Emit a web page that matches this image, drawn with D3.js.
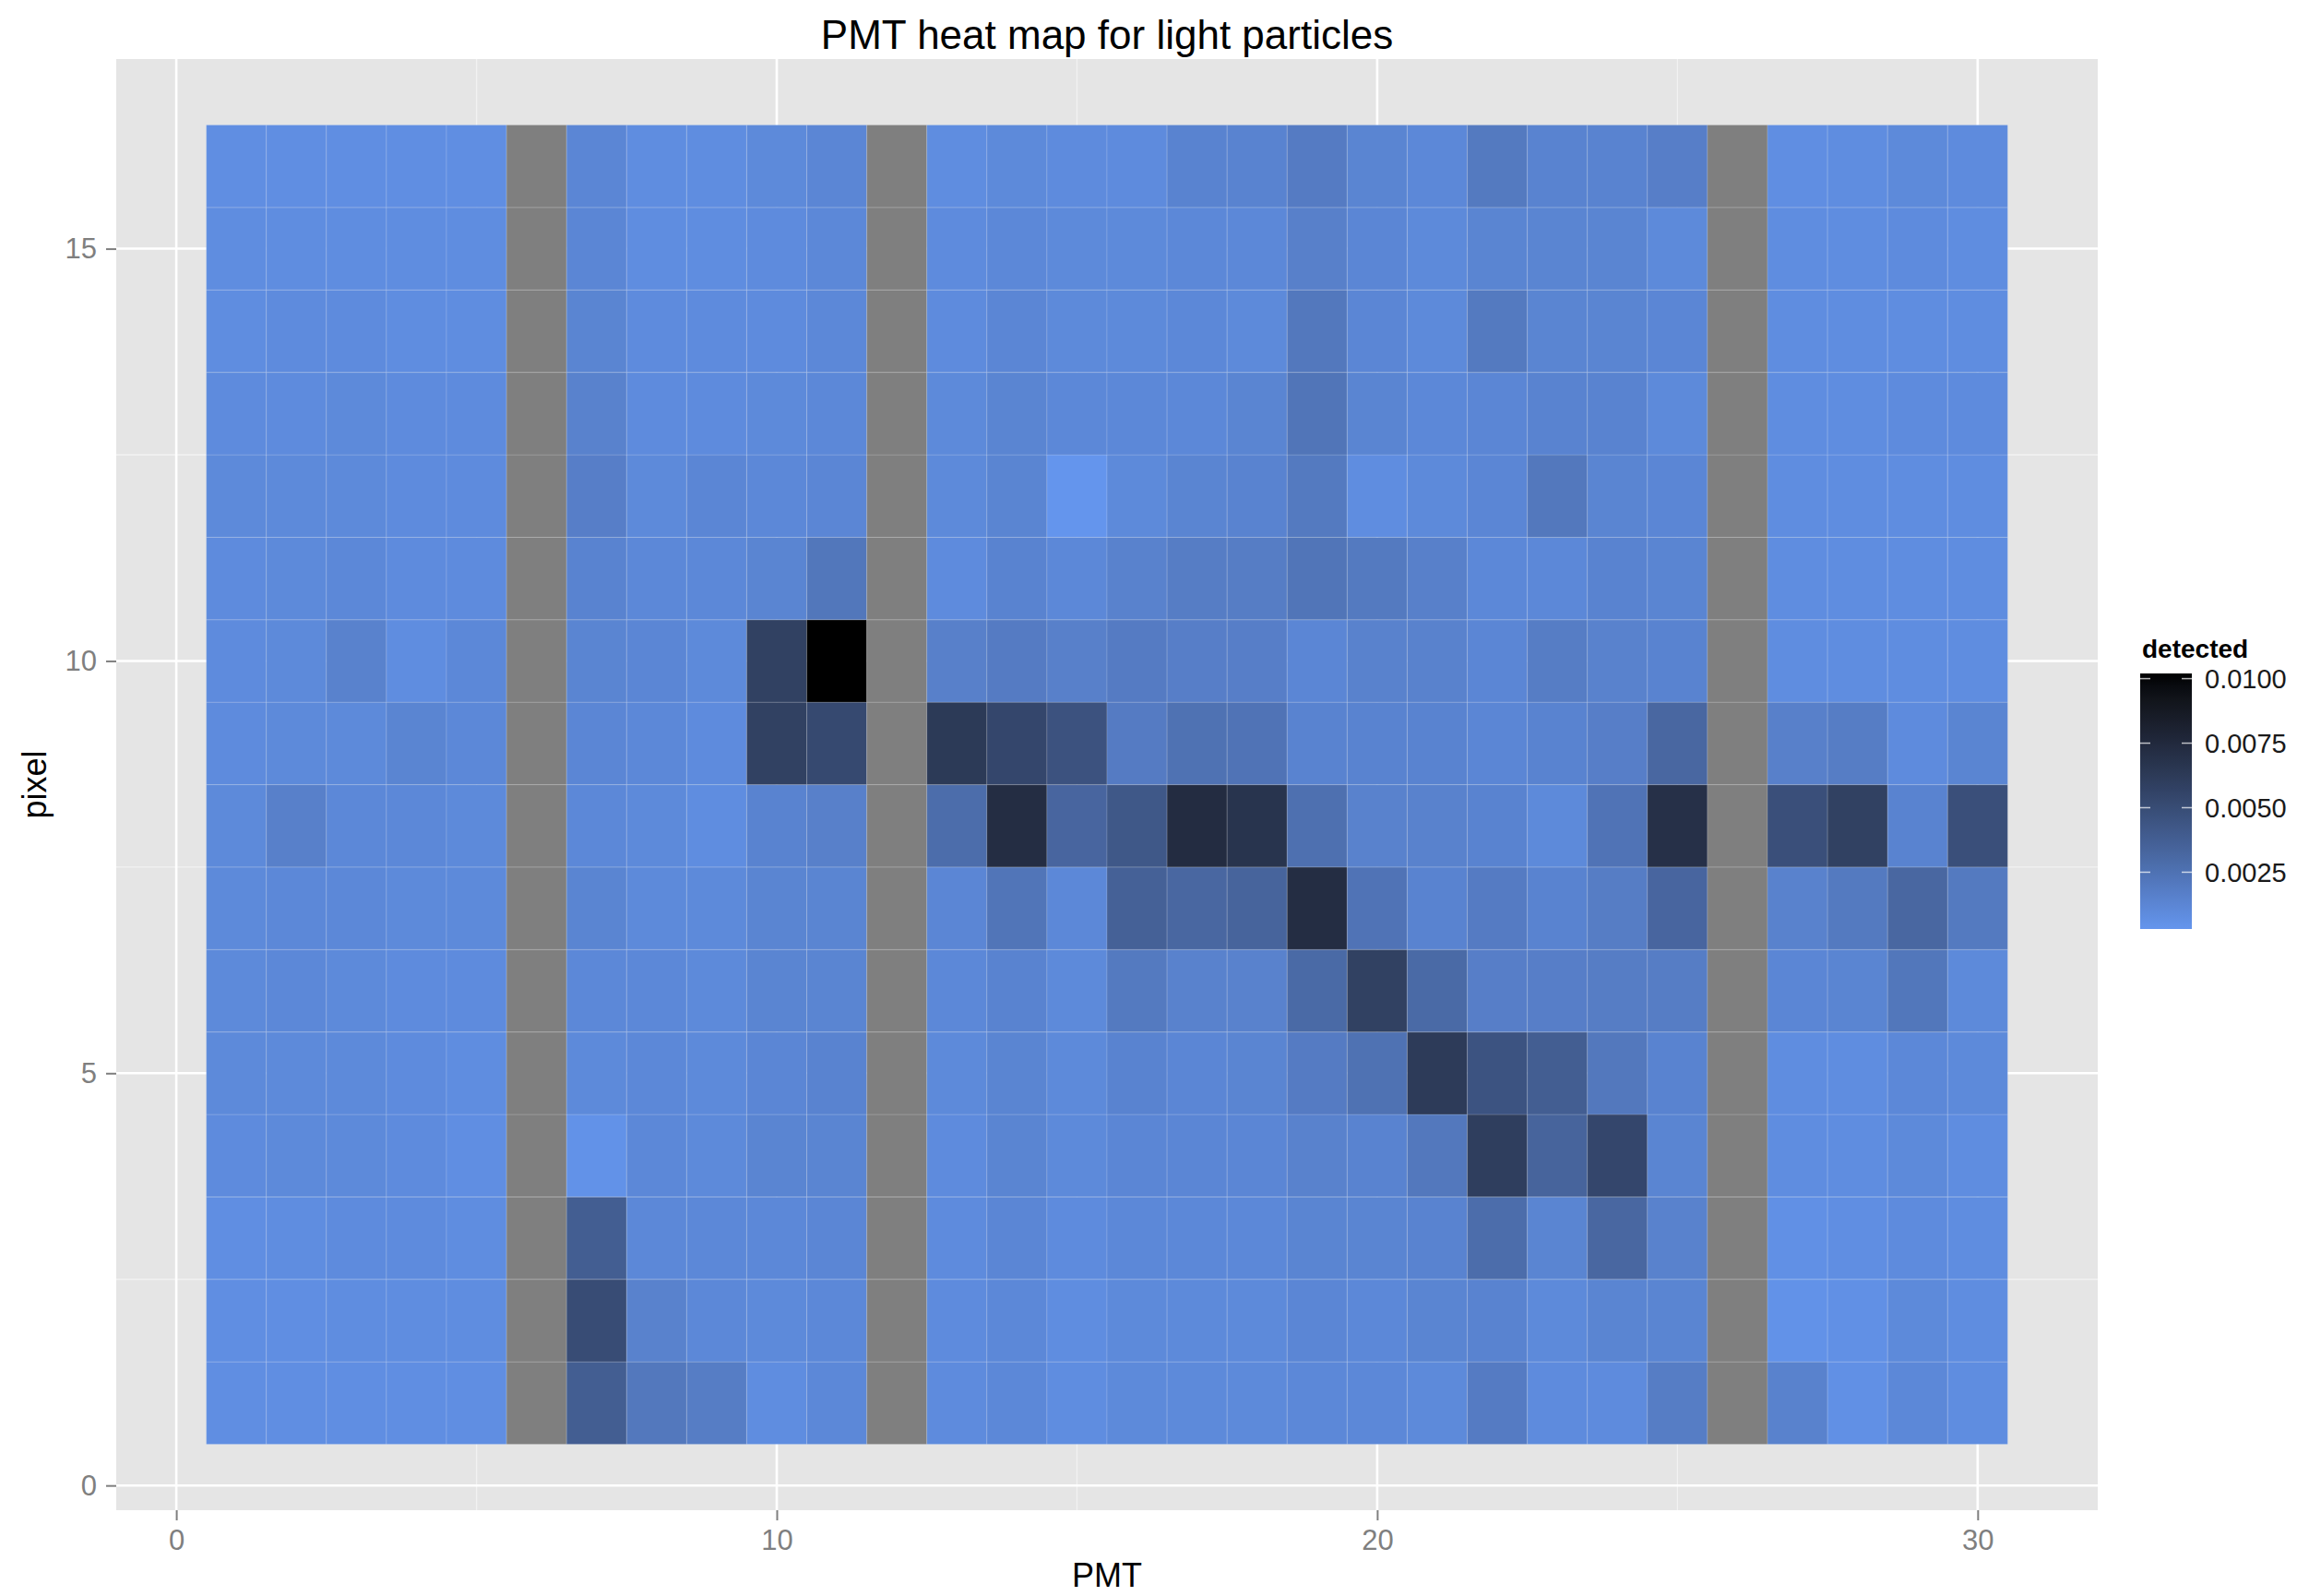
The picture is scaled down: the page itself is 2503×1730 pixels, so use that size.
<!DOCTYPE html>
<meta charset="utf-8">
<style>
body { margin: 0; background: #fff; }
svg { font-family: "Liberation Sans", Arial, sans-serif; }
.grid-major { stroke: #fff; stroke-width: 2.6; }
.grid-minor { stroke: #f2f2f2; stroke-width: 1.3; }
.axis text { fill: #7f7f7f; font-size: 31px; font-family: "Liberation Sans", Arial, sans-serif; }
.axis line { stroke: #7f7f7f; stroke-width: 2; }
.axis path { display: none; }
.tiles rect { stroke: rgba(255,255,255,0.13); stroke-width: 1.2; }
</style>

<svg width="2503" height="1730"></svg>

<script src="https://d3js.org/d3.v7.min.js"></script>
<script>
// categories
var pmt = [1, 2, 3, 4, 5, 6, 7, 8, 9, 10, 11, 12, 13, 14, 15, 16, 17, 18, 19, 20, 21, 22, 23, 24, 25, 26, 27, 28, 29, 30];
var pixel = [1, 2, 3, 4, 5, 6, 7, 8, 9, 10, 11, 12, 13, 14, 15, 16];

// ticks
var xBreaks = [0, 10, 20, 30], xMinor = [5, 15, 25];
var yBreaks = [0, 5, 10, 15], yMinor = [2.5, 7.5, 12.5];
var legendBreaks = [0.0025, 0.005, 0.0075, 0.01];

// detected, one array per pixel row (PMT 6, 12 and 26 are NA)
var pixel16 = [0.0007,0.0007,0.0007,0.0007,0.0007,null,0.0012,0.0008,0.0008,0.0010, 0.0012,null,0.0008,0.0010,0.0009,0.0009,0.0014,0.0014,0.0019,0.0013, 0.0011,0.0020,0.0014,0.0014,0.0017,null,0.0007,0.0008,0.0010,0.0009];
var pixel15 = [0.0008,0.0008,0.0008,0.0008,0.0008,null,0.0012,0.0008,0.0008,0.0009, 0.0011,null,0.0009,0.0011,0.0010,0.0010,0.0011,0.0011,0.0016,0.0012, 0.0010,0.0013,0.0013,0.0013,0.0010,null,0.0008,0.0008,0.0009,0.0008];
var pixel14 = [0.0008,0.0009,0.0009,0.0008,0.0008,null,0.0013,0.0009,0.0009,0.0009, 0.0011,null,0.0009,0.0012,0.0010,0.0010,0.0011,0.0010,0.0021,0.0012, 0.0010,0.0020,0.0013,0.0013,0.0012,null,0.0008,0.0008,0.0008,0.0008];
var pixel13 = [0.0009,0.0009,0.0010,0.0009,0.0009,null,0.0015,0.0009,0.0009,0.0010, 0.0011,null,0.0010,0.0013,0.0011,0.0011,0.0011,0.0013,0.0023,0.0013, 0.0011,0.0012,0.0014,0.0014,0.0010,null,0.0008,0.0008,0.0009,0.0009];
var pixel12 = [0.0010,0.0010,0.0010,0.0009,0.0009,null,0.0017,0.0010,0.0012,0.0011, 0.0012,null,0.0010,0.0013,0.0003,0.0010,0.0013,0.0014,0.0020,0.0008, 0.0010,0.0012,0.0021,0.0013,0.0012,null,0.0008,0.0008,0.0008,0.0008];
var pixel11 = [0.0009,0.0010,0.0011,0.0009,0.0009,null,0.0014,0.0011,0.0011,0.0013, 0.0022,null,0.0009,0.0014,0.0011,0.0015,0.0018,0.0018,0.0023,0.0020, 0.0016,0.0011,0.0011,0.0014,0.0013,null,0.0008,0.0008,0.0008,0.0008];
var pixel10 = [0.0009,0.0010,0.0015,0.0008,0.0011,null,0.0013,0.0012,0.0010,0.0058, 0.0102,null,0.0016,0.0019,0.0016,0.0019,0.0017,0.0017,0.0012,0.0015, 0.0015,0.0012,0.0018,0.0015,0.0014,null,0.0008,0.0008,0.0008,0.0008];
var pixel9  = [0.0009,0.0010,0.0010,0.0013,0.0011,null,0.0012,0.0011,0.0009,0.0058, 0.0052,null,0.0063,0.0054,0.0046,0.0019,0.0025,0.0024,0.0014,0.0014, 0.0014,0.0012,0.0014,0.0017,0.0032,null,0.0016,0.0018,0.0009,0.0013];
var pixel8  = [0.0010,0.0016,0.0011,0.0011,0.0010,null,0.0011,0.0010,0.0008,0.0014, 0.0016,null,0.0028,0.0072,0.0033,0.0042,0.0073,0.0067,0.0026,0.0015, 0.0015,0.0014,0.0010,0.0024,0.0070,null,0.0048,0.0058,0.0014,0.0048];
var pixel7  = [0.0010,0.0011,0.0011,0.0010,0.0010,null,0.0013,0.0010,0.0010,0.0013, 0.0013,null,0.0012,0.0023,0.0011,0.0036,0.0032,0.0034,0.0072,0.0024, 0.0014,0.0019,0.0014,0.0018,0.0033,null,0.0015,0.0020,0.0032,0.0020];
var pixel6  = [0.0010,0.0011,0.0010,0.0009,0.0009,null,0.0011,0.0011,0.0010,0.0013, 0.0013,null,0.0011,0.0014,0.0010,0.0020,0.0015,0.0015,0.0030,0.0058, 0.0030,0.0017,0.0017,0.0018,0.0018,null,0.0012,0.0013,0.0022,0.0010];
var pixel5  = [0.0010,0.0010,0.0010,0.0009,0.0008,null,0.0010,0.0011,0.0010,0.0012, 0.0014,null,0.0010,0.0013,0.0010,0.0014,0.0012,0.0013,0.0019,0.0025, 0.0062,0.0045,0.0038,0.0021,0.0014,null,0.0008,0.0008,0.0011,0.0010];
var pixel4  = [0.0009,0.0010,0.0010,0.0009,0.0007,null,0.0005,0.0011,0.0010,0.0013, 0.0013,null,0.0009,0.0013,0.0010,0.0012,0.0012,0.0012,0.0015,0.0014, 0.0021,0.0060,0.0034,0.0054,0.0013,null,0.0008,0.0008,0.0010,0.0008];
var pixel3  = [0.0007,0.0008,0.0009,0.0009,0.0008,null,0.0038,0.0011,0.0011,0.0011, 0.0012,null,0.0009,0.0012,0.0009,0.0011,0.0011,0.0011,0.0013,0.0013, 0.0014,0.0028,0.0013,0.0032,0.0015,null,0.0006,0.0007,0.0009,0.0008];
var pixel2  = [0.0007,0.0007,0.0008,0.0008,0.0008,null,0.0050,0.0015,0.0011,0.0010, 0.0011,null,0.0009,0.0011,0.0008,0.0010,0.0010,0.0010,0.0012,0.0011, 0.0013,0.0014,0.0010,0.0013,0.0013,null,0.0005,0.0006,0.0010,0.0008];
var pixel1  = [0.0007,0.0007,0.0007,0.0007,0.0007,null,0.0038,0.0021,0.0018,0.0008, 0.0011,null,0.0009,0.0011,0.0008,0.0010,0.0010,0.0010,0.0011,0.0011, 0.0010,0.0019,0.0009,0.0009,0.0018,null,0.0015,0.0006,0.0011,0.0008];

var rows = [pixel1, pixel2, pixel3, pixel4, pixel5, pixel6, pixel7, pixel8,
            pixel9, pixel10, pixel11, pixel12, pixel13, pixel14, pixel15, pixel16];

// flat table for the tiles
var cells = [];
pixel.forEach(function(p, i) {
  pmt.forEach(function(m, j) {
    cells.push({pmt: m, pixel: p, detected: rows[i][j]});
  });
});

var svg = d3.select("svg");

// panel
var panel = {left: 126, top: 64, right: 2274, bottom: 1637};
var x = d3.scaleLinear().domain([-1, 32]).range([panel.left, panel.right]);
var y = d3.scaleLinear().domain([-0.3, 17.3]).range([panel.bottom, panel.top]);

var valid = cells.filter(d => d.detected !== null).map(d => d.detected);
var extent = d3.extent(valid);
var color = d3.scaleLinear()
    .domain(extent)
    .range(["#6495ED", "#000000"])
    .interpolate(d3.interpolateLab);

svg.append("rect")
    .attr("x", panel.left).attr("y", panel.top)
    .attr("width", panel.right - panel.left)
    .attr("height", panel.bottom - panel.top)
    .attr("fill", "#e5e5e5");

// grid
var grid = svg.append("g");
grid.selectAll(".vmin").data(xMinor).enter().append("line")
    .attr("class", "grid-minor")
    .attr("x1", d => x(d)).attr("x2", d => x(d))
    .attr("y1", panel.top).attr("y2", panel.bottom);
grid.selectAll(".hmin").data(yMinor).enter().append("line")
    .attr("class", "grid-minor")
    .attr("y1", d => y(d)).attr("y2", d => y(d))
    .attr("x1", panel.left).attr("x2", panel.right);
grid.selectAll(".vmaj").data(xBreaks).enter().append("line")
    .attr("class", "grid-major")
    .attr("x1", d => x(d)).attr("x2", d => x(d))
    .attr("y1", panel.top).attr("y2", panel.bottom);
grid.selectAll(".hmaj").data(yBreaks).enter().append("line")
    .attr("class", "grid-major")
    .attr("y1", d => y(d)).attr("y2", d => y(d))
    .attr("x1", panel.left).attr("x2", panel.right);

// tiles
svg.append("g")
    .attr("class", "tiles")
  .selectAll("rect")
  .data(cells)
  .enter()
  .append("rect")
    .attr("x", d => x(d.pmt - 0.5))
    .attr("y", d => y(d.pixel + 0.5))
    .attr("width", d => x(d.pmt + 0.5) - x(d.pmt - 0.5))
    .attr("height", d => y(d.pixel - 0.5) - y(d.pixel + 0.5))
    .attr("fill", d => d.detected === null ? "#7f7f7f" : color(d.detected));

// axes
svg.append("g")
    .attr("class", "axis")
    .attr("transform", "translate(0," + panel.bottom + ")")
    .call(d3.axisBottom(x).tickValues(xBreaks).tickSize(11).tickPadding(10).tickFormat(d3.format("d")));
svg.append("g")
    .attr("class", "axis")
    .attr("transform", "translate(" + panel.left + ",0)")
    .call(d3.axisLeft(y).tickValues(yBreaks).tickSize(11).tickPadding(10).tickFormat(d3.format("d")));

// titles
svg.append("text")
    .attr("x", (panel.left + panel.right) / 2).attr("y", 53)
    .attr("text-anchor", "middle")
    .attr("font-size", 44)
    .text("PMT heat map for light particles");
svg.append("text")
    .attr("x", (panel.left + panel.right) / 2).attr("y", 1720)
    .attr("text-anchor", "middle")
    .attr("font-size", 36)
    .text("PMT");
svg.append("text")
    .attr("transform", "translate(50," + ((panel.top + panel.bottom) / 2) + ") rotate(-90)")
    .attr("text-anchor", "middle")
    .attr("font-size", 36)
    .text("pixel");

// LEGEND
var bar = {x: 2320, top: 730, bottom: 1007, width: 56};
var legY = d3.scaleLinear().domain(extent).range([bar.bottom, bar.top]);

var grad = svg.append("defs").append("linearGradient")
    .attr("id", "detgrad")
    .attr("x1", 0).attr("y1", 1).attr("x2", 0).attr("y2", 0);
d3.range(0, 1.0001, 0.05).forEach(function(t) {
  grad.append("stop")
      .attr("offset", t)
      .attr("stop-color", color(extent[0] + t * (extent[1] - extent[0])));
});

var legend = svg.append("g");
legend.append("text")
    .attr("x", bar.x + 2).attr("y", 713)
    .attr("font-size", 28)
    .attr("font-weight", "bold")
    .text("detected");
legend.append("rect")
    .attr("x", bar.x).attr("y", bar.top)
    .attr("width", bar.width).attr("height", bar.bottom - bar.top)
    .attr("fill", "url(#detgrad)");
legend.selectAll(".lt").data(legendBreaks).enter().append("line")
    .attr("x1", bar.x).attr("x2", bar.x + 11)
    .attr("y1", d => legY(d)).attr("y2", d => legY(d))
    .attr("stroke", "#fff").attr("stroke-width", 1.5).attr("opacity", 0.7);
legend.selectAll(".rt").data(legendBreaks).enter().append("line")
    .attr("x1", bar.x + bar.width - 11).attr("x2", bar.x + bar.width)
    .attr("y1", d => legY(d)).attr("y2", d => legY(d))
    .attr("stroke", "#fff").attr("stroke-width", 1.5).attr("opacity", 0.7);
legend.selectAll(".ll").data(legendBreaks).enter().append("text")
    .attr("x", bar.x + bar.width + 14)
    .attr("y", d => legY(d))
    .attr("dy", "0.36em")
    .attr("font-size", 29)
    .attr("fill", "#1a1a1a")
    .text(d => d3.format(".4f")(d));
</script>
